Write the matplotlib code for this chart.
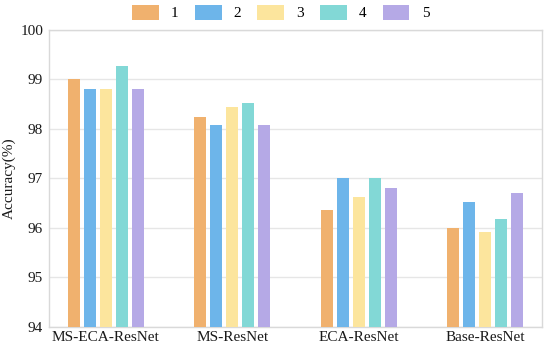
import matplotlib
matplotlib.use("Agg")
import matplotlib.pyplot as plt
import numpy as np

categories = ["MS-ECA-ResNet", "MS-ResNet", "ECA-ResNet", "Base-ResNet"]
series_labels = ["1", "2", "3", "4", "5"]
s1 = [99.00, 98.25, 96.36, 96.00]
s2 = [98.81, 98.08, 97.00, 96.53]
s3 = [98.81, 98.44, 96.63, 95.91]
s4 = [99.27, 98.53, 97.00, 96.17]
s5 = [98.81, 98.08, 96.81, 96.71]
series = [s1, s2, s3, s4, s5]
colors = ["#F0B16E", "#6DB5EA", "#FCE59D", "#82D8D6", "#B5A9E6"]
yticks = [94, 95, 96, 97, 98, 99, 100]

plt.rcParams['font.family'] = ['Liberation Serif', 'DejaVu Serif']

fig = plt.figure(figsize=(5.5, 3.51), dpi=100)
ax = fig.add_axes([48.7/550, 1-326.7/351, (542-48.7)/550, (326.7-30)/351])

x = np.arange(len(categories))
pitch = 0.1265
width = 0.095
for i, (vals, lab, c) in enumerate(zip(series, series_labels, colors)):
    ax.bar(x + (i-2)*pitch, vals, width=width, color=c, label=lab, zorder=3)

ax.set_ylim(94, 100)
ax.set_xlim(-0.45, 3.45)
ax.set_yticks(yticks)
ax.set_xticks(x)
ax.set_xticklabels(categories)
ax.tick_params(length=0, labelsize=11, colors='#1a1a1a', pad=4)
ax.tick_params(axis='x', pad=3)
ax.grid(axis='y', color='#e6e6e6', linewidth=1, zorder=0)
for sp in ax.spines.values():
    sp.set_color('#d9d9d9')
    sp.set_linewidth(1)
ax.set_ylabel("Accuracy(%)", fontsize=11, color='#1a1a1a', labelpad=3)

handles, labels = ax.get_legend_handles_labels()
fig.legend(handles, labels, loc='center', bbox_to_anchor=(280.7/550, 1-12.7/351),
           ncol=5, frameon=False, fontsize=11, handlelength=1.75, handleheight=1.1,
           handletextpad=0.8, columnspacing=1.05, borderpad=0)

fig.savefig("out.png", dpi=100)
